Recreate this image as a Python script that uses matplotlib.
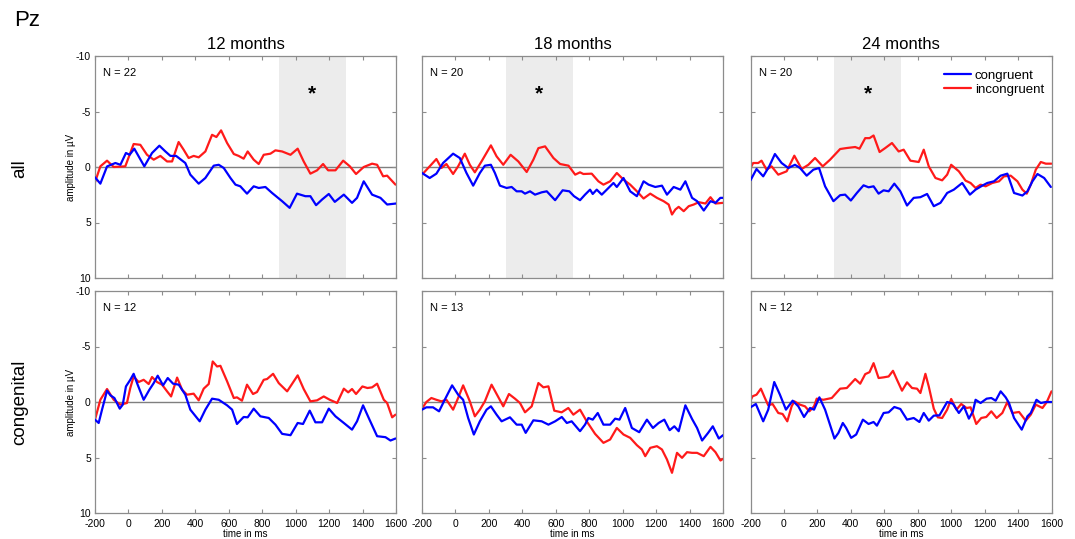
import numpy as np
import matplotlib
matplotlib.use("Agg")
import matplotlib.pyplot as plt

plt.rcParams['font.family'] = ['Liberation Sans', 'DejaVu Sans']
plt.rcParams['axes.unicode_minus'] = False

ages = ["12 months", "18 months", "24 months"]
groups = ["all", "congenital"]
n_labels = [["N = 22", "N = 20", "N = 20"], ["N = 12", "N = 13", "N = 12"]]
sig_windows = [(900, 1300), (300, 700), (300, 700)]
x_ticks = [-200, 0, 200, 400, 600, 800, 1000, 1200, 1400, 1600]
y_ticks = [-10, -5, 0, 5, 10]

# ---- top row (all) ----
a12_con_t = [-200,-168,-128,-78,-48,-15,7,35,61,95,141,185,221,251,285,340,370,420,460,510,540,570,610,640,669,709,749,779,819,859,919,964,1008,1058,1088,1122,1158,1198,1234,1288,1337,1367,1407,1457,1507,1547,1600]
a12_con_v = [0.93,1.5,-0.05,-0.36,-0.2,-1.26,-1.1,-1.65,-0.96,-0.06,-1.26,-1.92,-1.4,-1.0,-1.0,-0.36,0.69,1.5,0.99,-0.12,-0.2,0.09,0.99,1.59,1.74,2.4,1.74,1.89,1.8,2.34,3.08,3.68,2.4,2.63,2.63,3.44,2.93,2.43,3.14,2.49,3.23,2.78,1.29,2.49,2.78,3.38,3.29]
a12_inc_t = [-200,-168,-128,-88,-19,11,31,71,111,151,191,231,261,300,330,360,390,420,460,500,526,554,590,630,659,689,713,749,779,809,849,879,919,969,1012,1048,1088,1128,1164,1194,1238,1284,1324,1361,1407,1457,1487,1523,1547,1597]
a12_inc_v = [1.38,-0.06,-0.57,0,-0.06,-1.26,-2.07,-2.0,-1.1,-0.66,-1.0,-0.5,-0.5,-2.25,-1.56,-0.81,-1.0,-0.87,-1.4,-2.9,-2.7,-3.3,-2.16,-1.17,-1.0,-0.75,-1.4,-0.66,-0.27,-1.1,-1.2,-1.5,-1.4,-1.1,-1.65,-0.5,0.6,0.3,-0.27,0.3,0.3,-0.57,-0.06,0.63,0,-0.3,-0.2,0.84,0.78,1.59]

a18_con_t = [-200,-154,-114,-74,-14,26,66,106,146,176,212,236,266,306,336,366,396,416,446,476,516,546,596,641,681,709,745,775,805,821,845,875,915,945,965,1005,1045,1085,1125,1155,1195,1235,1265,1305,1345,1375,1415,1445,1485,1525,1555,1584,1600]
a18_con_v = [0.54,0.99,0.6,-0.36,-1.2,-0.81,0.54,1.68,0.54,-0.12,-0.2,0.54,1.68,1.89,1.8,2.19,2.19,2.4,2.19,2.49,2.28,2.19,2.99,2.1,2.19,2.63,2.99,2.49,2.04,2.43,2.04,2.49,1.89,1.44,1.8,0.99,2.19,2.63,1.29,1.59,1.8,1.68,2.49,1.8,2.04,1.29,2.78,3.08,3.92,3.08,3.23,2.78,2.78]
a18_inc_t = [-200,-154,-114,-84,-54,-14,16,56,86,116,156,212,246,286,330,376,426,466,496,536,586,626,676,716,745,765,815,855,885,925,965,1005,1045,1085,1125,1165,1205,1245,1275,1295,1315,1335,1365,1395,1425,1455,1495,1525,1555,1600]
a18_inc_v = [0.69,-0.06,-0.72,0.09,-0.27,0.63,-0.06,-1.2,-0.2,0.48,-0.5,-1.95,-0.96,-0.2,-1.1,-0.5,0.45,-0.66,-1.7,-1.86,-0.81,-0.27,-0.12,0.69,0.48,0.63,0.6,1.29,1.59,1.29,0.54,1.14,1.59,2.19,2.84,2.4,2.78,3.08,3.38,4.28,3.83,3.59,3.98,3.53,3.38,3.17,3.29,2.72,3.29,3.23]

a24_con_t = [-200,-164,-124,-88,-54,-14,26,66,96,136,176,210,246,296,336,366,400,436,476,506,536,566,596,626,660,696,736,776,816,856,896,936,976,1016,1066,1112,1146,1186,1216,1256,1296,1336,1376,1426,1456,1486,1516,1556,1596]
a24_con_v = [1.2,0.18,0.84,-0.06,-1.17,-0.36,0.09,-0.2,0.09,0.78,0.24,0.09,1.74,3.08,2.54,2.49,3.02,2.34,1.65,1.83,1.74,2.4,2.1,2.19,1.5,2.19,3.47,2.78,2.72,2.43,3.53,3.23,2.34,2.04,1.44,2.49,2.04,1.68,1.44,1.29,0.78,0.6,2.34,2.57,2.19,1.29,0.63,0.99,1.8]
a24_inc_t = [-200,-184,-154,-134,-104,-74,-34,16,62,106,146,186,232,276,336,376,426,452,486,512,536,572,606,646,686,716,756,806,836,866,906,946,976,1000,1046,1086,1116,1146,1176,1206,1246,1286,1316,1356,1396,1426,1452,1476,1506,1536,1566,1600]
a24_inc_v = [0.09,-0.36,-0.36,-0.57,0.24,-0.06,0.69,0.39,-1.02,0.18,-0.2,-0.81,-0.06,-0.66,-1.62,-1.71,-1.8,-1.65,-2.6,-2.6,-2.84,-1.35,-1.71,-2.16,-1.4,-1.56,-0.57,-0.45,-1.56,-0.06,0.99,1.2,0.69,-0.2,0.39,1.23,1.44,1.89,1.59,1.74,1.44,1.29,0.84,0.78,1.29,2.04,2.4,1.59,0.24,-0.45,-0.3,-0.3]

# ---- bottom row (congenital) ----
c12_con_t = [-200,-178,-158,-128,-108,-84,-52,-34,-15,11,31,55,91,125,151,175,207,235,267,301,340,370,426,460,500,540,590,620,649,689,713,749,789,839,879,919,969,1012,1044,1084,1118,1158,1198,1238,1288,1337,1367,1403,1437,1487,1537,1567,1597]
c12_con_v = [1.59,1.89,0.69,-1.02,-0.6,-0.36,0.6,0.24,-1.4,-2.0,-2.54,-1.56,-0.2,-1.1,-1.7,-2.37,-1.5,-2.16,-1.65,-1.56,-0.66,0.69,1.74,0.69,-0.3,-0.2,0.3,0.69,1.98,1.35,1.38,0.6,1.29,1.44,2.04,2.87,2.99,1.89,1.98,0.78,1.83,1.83,0.6,1.29,1.89,2.49,1.74,0.3,1.44,3.08,3.17,3.47,3.29]
c12_inc_t = [-200,-168,-128,-88,-48,-9,11,31,61,91,121,141,171,201,231,255,291,321,350,390,420,450,480,504,530,550,590,630,649,679,709,745,769,809,829,865,899,949,978,1012,1048,1088,1128,1168,1204,1248,1288,1314,1337,1361,1399,1429,1457,1487,1527,1547,1577,1597]
c12_inc_v = [1.59,-0.2,-1.17,-0.2,0.24,0.09,-1.26,-2.3,-1.8,-2.0,-1.62,-2.25,-1.8,-1.56,-0.96,-0.5,-2.2,-1.1,-0.66,-0.75,-0.15,-1.2,-1.62,-3.65,-3.2,-3.26,-1.86,-0.36,-0.42,-0.12,-1.56,-0.72,-0.9,-2.0,-2.07,-2.54,-1.7,-0.96,-1.62,-2.4,-1.17,-0.06,-0.15,-0.5,-0.2,0.09,-1.2,-0.87,-1.17,-0.72,-1.4,-1.26,-1.32,-1.65,-0.2,0.09,1.38,1.14]

c18_con_t = [-200,-174,-134,-98,-64,-20,16,46,76,110,146,186,212,246,276,326,366,396,420,466,516,556,596,636,666,695,745,775,795,821,851,885,925,955,981,1015,1055,1099,1145,1181,1215,1249,1281,1309,1335,1375,1415,1445,1475,1511,1539,1575,1600]
c18_con_v = [0.69,0.48,0.48,0.84,-0.2,-1.5,-0.66,-0.2,1.44,2.93,1.74,0.69,0.39,1.14,1.74,1.38,2.04,2.04,2.78,1.65,1.74,2.04,1.74,1.35,1.89,1.74,2.63,2.04,1.44,1.59,0.99,2.04,2.04,1.5,1.59,0.54,2.34,2.72,1.59,2.34,1.89,1.59,2.54,2.19,2.63,0.3,1.53,2.34,3.47,2.78,2.19,3.29,2.99]
c18_inc_t = [-200,-174,-144,-114,-84,-54,-14,16,46,86,116,146,176,216,256,286,320,356,386,416,456,496,526,556,591,635,675,705,745,785,835,885,925,965,1005,1045,1085,1115,1135,1165,1205,1235,1265,1295,1325,1355,1385,1415,1445,1485,1525,1555,1585,1600]
c18_inc_v = [0.6,0,-0.36,-0.2,-0.06,-0.2,0.69,-0.36,-1.5,-0.06,1.29,0.69,-0.06,-1.56,-0.45,0.39,-0.72,-0.3,0.09,0.93,0.39,-1.71,-1.32,-1.41,0.78,0.93,0.54,1.14,0.69,1.74,2.87,3.68,3.38,2.34,2.93,3.23,3.89,4.28,4.88,4.13,3.98,4.28,5.18,6.38,4.58,5.03,4.52,4.58,4.58,4.88,4.04,4.52,5.27,5.12]

c24_con_t = [-200,-168,-124,-94,-58,-24,12,52,86,120,156,180,212,246,272,302,326,352,372,402,432,472,506,536,556,596,626,660,696,736,776,810,836,866,896,930,976,1010,1046,1076,1106,1130,1146,1176,1212,1240,1266,1296,1326,1346,1376,1422,1456,1476,1510,1536,1566,1600]
c24_con_v = [0.48,0.18,1.74,0.69,-1.8,-0.66,0.69,-0.12,0.39,1.35,0.54,0.69,-0.42,0.69,1.89,3.29,2.78,1.89,2.34,3.23,2.93,1.59,1.98,1.8,2.13,0.99,0.93,0.45,0.63,1.59,1.44,1.8,0.99,1.68,1.23,1.2,0,0.15,0.99,0.39,1.5,0.84,-0.2,0.09,-0.3,-0.36,-0.12,-0.96,-0.42,0.09,1.44,2.49,1.29,0.99,-0.2,0.09,0,0]
c24_inc_t = [-200,-188,-164,-138,-114,-94,-68,-34,-8,20,46,62,96,126,152,180,196,236,286,336,376,426,456,486,512,536,566,596,626,652,676,706,736,766,796,816,846,866,896,920,946,976,1000,1032,1060,1092,1116,1150,1180,1210,1240,1272,1306,1336,1366,1406,1446,1476,1506,1546,1572,1600]
c24_inc_v = [-0.12,-0.51,-0.66,-1.2,-0.36,0.3,0.18,0.99,1.08,1.74,0.39,-0.06,0.24,0.39,0.84,0.39,-0.3,-0.2,-0.36,-1.2,-1.26,-2.07,-1.65,-2.51,-2.69,-3.5,-2.16,-2.22,-2.3,-2.81,-2.0,-1.02,-1.77,-1.26,-1.2,-0.81,-2.54,-1.4,0.6,1.38,1.44,0.69,-0.27,0.69,0.18,0.54,0.48,1.98,1.44,1.35,0.84,1.44,0.99,0,0.99,0.9,1.68,1.14,0.24,0.54,0,-0.96]

congruent = [[(a12_con_t, a12_con_v), (a18_con_t, a18_con_v), (a24_con_t, a24_con_v)],
             [(c12_con_t, c12_con_v), (c18_con_t, c18_con_v), (c24_con_t, c24_con_v)]]
incongruent = [[(a12_inc_t, a12_inc_v), (a18_inc_t, a18_inc_v), (a24_inc_t, a24_inc_v)],
               [(c12_inc_t, c12_inc_v), (c18_inc_t, c18_inc_v), (c24_inc_t, c24_inc_v)]]

W, H = 1075, 539
fig = plt.figure(figsize=(W/100, H/100), dpi=100)

lefts = [95, 422, 750.5]
width = 301
tops = [56, 291]
height = 222
frame_col = "#8c8c8c"

for r in range(2):
    for c in range(3):
        ax = fig.add_axes([lefts[c]/W, 1 - (tops[r]+height)/H, width/W, height/H])
        ax.set_xlim(-200, 1600)
        ax.set_ylim(10, -10)
        if r == 0:
            ax.axvspan(*sig_windows[c], color="#ececec", zorder=0, lw=0)
            ax.text(sum(sig_windows[c])/2, -6.6, "*", ha="center", va="center", fontsize=15, fontweight="bold")
        ax.axhline(0, color="#7f7f7f", lw=1.0, zorder=1)
        t, v = congruent[r][c]
        ax.plot(t, v, color="#0000ff", lw=1.6, label="congruent", zorder=3,
                solid_joinstyle="round", solid_capstyle="round")
        t, v = incongruent[r][c]
        ax.plot(t, v, color="#ff1a1a", lw=1.6, label="incongruent", zorder=2,
                solid_joinstyle="round", solid_capstyle="round")
        ax.text(0.027, 0.923, n_labels[r][c], transform=ax.transAxes, fontsize=8, va="center", ha="left")
        ax.set_xticks(x_ticks)
        ax.set_yticks(y_ticks)
        ax.tick_params(direction="in", length=3, width=0.8, color=frame_col, top=True, right=True, labelsize=7.5)
        ax.tick_params(axis="x", pad=4)
        ax.tick_params(axis="y", pad=3)
        for s in ax.spines.values():
            s.set_color(frame_col)
            s.set_linewidth(0.9)
        if c != 0:
            ax.set_yticklabels([])
        else:
            ax.set_ylabel("amplitude in µV", fontsize=7, labelpad=0)
        if r != 1:
            ax.set_xticklabels([])
        else:
            ax.set_xlabel("time in ms", fontsize=7, labelpad=0)
        if r == 0:
            ax.set_title(ages[c], fontsize=12, pad=5)
        if r == 0 and c == 2:
            ax.legend(loc="upper right", bbox_to_anchor=(0.993, 0.964), frameon=False, fontsize=9.5,
                      handlelength=2.05, borderaxespad=0, labelspacing=0.15, handletextpad=0.3)

fig.text(20/W, 1 - 169/H, "all", rotation=90, fontsize=13.5, ha="center", va="center")
fig.text(20/W, 1 - 402/H, "congenital", rotation=90, fontsize=13.5, ha="center", va="center")
fig.text(14/W, 1 - 21/H, "Pz", fontsize=16, ha="left", va="center")

fig.savefig("out.png", dpi=100)
